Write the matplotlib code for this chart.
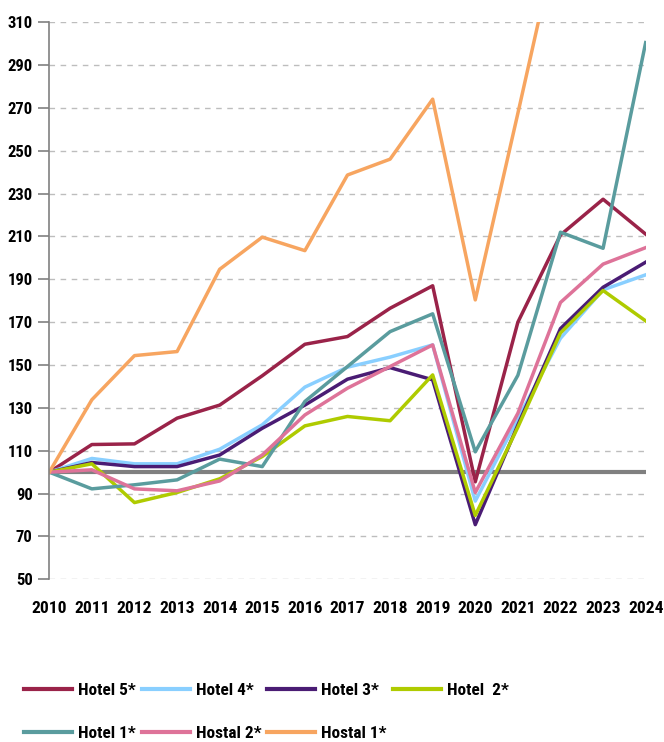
import matplotlib
matplotlib.use("Agg")
import matplotlib.pyplot as plt
from matplotlib import font_manager as fm
from matplotlib.textpath import TextPath

years = list(range(2010, 2025))

# index values, 2010 = 100
hotel_5 = [100, 112.9, 113.2, 125.2, 131.3, 145.0, 159.7, 163.3, 176.5, 187.0, 95.5, 170.0, 210.7, 227.4, 211.1]
hotel_4 = [100, 106.4, 103.9, 103.9, 110.7, 122.1, 139.7, 149.0, 153.7, 159.4, 86.5, 125.0, 162.5, 185.1, 192.1]
hotel_3 = [100, 104.5, 102.6, 102.6, 108.0, 120.5, 131.3, 143.4, 148.8, 143.1, 75.5, 122.0, 167.0, 186.3, 198.0]
hotel_2 = [100, 103.9, 85.8, 90.5, 96.9, 107.3, 121.6, 126.0, 124.0, 145.4, 79.8, 121.0, 165.0, 184.8, 170.6]
hotel_1 = [100, 92.2, 94.1, 96.4, 106.1, 102.6, 133.0, 149.3, 165.6, 173.9, 109.5, 145.2, 212.0, 204.5, 300.5]
hostal_2 = [100, 101.1, 92.2, 91.3, 95.9, 108.0, 126.7, 139.2, 149.3, 159.4, 90.5, 127.5, 179.2, 197.1, 204.8]
hostal_1 = [100, 133.8, 154.4, 156.3, 194.7, 209.7, 203.4, 238.7, 246.1, 274.1, 180.4, 267.5, 356.0, 380.0, 400.0]

series = [
    ("Hotel 5*", hotel_5, "#9a2349"),
    ("Hotel 4*", hotel_4, "#89cfff"),
    ("Hotel 3*", hotel_3, "#4a1c74"),
    ("Hotel  2*", hotel_2, "#afcb00"),
    ("Hotel 1*", hotel_1, "#5a9c9e"),
    ("Hostal 2*", hostal_2, "#de7399"),
    ("Hostal 1*", hostal_1, "#f7a560"),
]

yticks = list(range(50, 311, 20))

# the original uses a narrow bold face; take the narrowest bold one installed
font_file = None
for key in ["LiberationSansNarrow-Bold", "RobotoCondensed-Bold", "OpenSansCondensed-Bold",
            "DejaVuSansCondensed-Bold", "NotoSans-CondensedBold", "DejaVuSans-Bold"]:
    for f in fm.fontManager.ttflist:
        if key.lower() in f.fname.lower().replace(" ", ""):
            font_file = f.fname
            break
    if font_file:
        break


def fprop(text, px_width):
    # font size that gives the text about the width it has in the picture
    base = fm.FontProperties(fname=font_file, size=10) if font_file else fm.FontProperties(weight="bold", size=10)
    w = TextPath((0, 0), text, size=10, prop=base).get_extents().width
    size = 10 * (px_width * 72 / 100) / w
    if font_file:
        return fm.FontProperties(fname=font_file, size=size)
    return fm.FontProperties(weight="bold", size=size)


xfont = fprop("2010", 34)
yfont = fprop("310", 24)
legfont = fprop("Hostal 2*", 64)

fig = plt.figure(figsize=(6.64, 7.42), dpi=100)
ax = fig.add_axes([0.0742, 0.2193, 0.8982, 0.7507])

ax.axhline(100, color="#808080", lw=3, zorder=1)

handles = {}
for name, vals, col in series:
    ln, = ax.plot(years, vals, color=col, lw=2.5, label=name, zorder=2)
    handles[name] = ln

ax.set_xlim(2010, 2024)
ax.set_ylim(50, 310)
ax.set_yticks(yticks)
ax.set_xticks(years)
ax.grid(axis="y", color="#bdbdbd", ls=(0, (4, 4)), lw=1, zorder=0)
ax.set_axisbelow(True)

for s in ["top", "right", "bottom"]:
    ax.spines[s].set_visible(False)
ax.spines["left"].set_color("#808080")
ax.spines["left"].set_linewidth(1.2)

ax.tick_params(axis="y", length=8, width=1.2, color="#808080", pad=4)
ax.tick_params(axis="x", length=0, pad=15.5)
for lab in ax.get_xticklabels():
    lab.set_fontproperties(xfont)
for lab in ax.get_yticklabels():
    lab.set_fontproperties(yfont)

# row-major order for a 4-column legend
order = ["Hotel 5*", "Hotel 1*", "Hotel 4*", "Hostal 2*", "Hotel 3*", "Hostal 1*", "Hotel  2*"]
fs = legfont.get_size_in_points() * 100 / 72
leg = fig.legend([handles[n] for n in order], order, loc="upper left",
                 bbox_to_anchor=(24 / 664, 1 - 683 / 742), ncol=4, frameon=False,
                 prop=legfont, handlelength=48 / fs, handletextpad=6 / fs,
                 columnspacing=6 / fs, labelspacing=(42.7 - 0.85 * fs) / fs,
                 borderpad=0, borderaxespad=0)
for l in leg.get_lines():
    l.set_linewidth(3)

fig.savefig("out.png", dpi=100)
